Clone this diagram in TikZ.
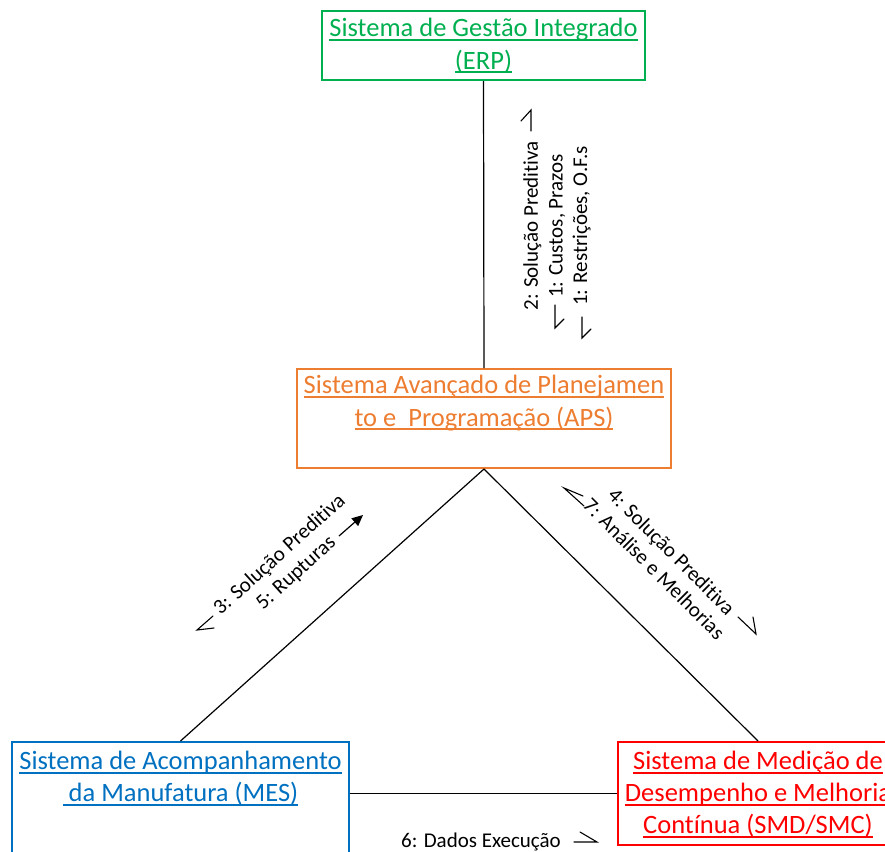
\documentclass[tikz,border=0pt]{standalone}
\usepackage{fontspec}
\setmainfont{Carlito}[Ligatures=NoCommon]
\usetikzlibrary{arrows.meta}
\definecolor{erpgreen}{HTML}{00B050}
\definecolor{apsorange}{HTML}{ED7D31}
\definecolor{mesblue}{HTML}{0070C0}
\definecolor{smdred}{HTML}{FF0000}
% underline at a fixed depth below the baseline, in the current colour
\newcommand\ulined[1]{\leavevmode\setbox0\hbox{#1}\rlap{\rule[-0.16em]{\wd0}{0.075em}}\box0}
\begin{document}
\begin{tikzpicture}[x=1pt,y=-1pt,
  sysbox/.style={draw, line width=2pt, inner sep=0pt},
  systext/.style={align=center, inner sep=0pt, font=\fontsize{26.5}{32.3}\selectfont},
  lbl/.style={align=center, inner sep=0pt, font=\fontsize{21}{24.6}\selectfont},
  conn/.style={line width=1.2pt, black},
  harp/.style={line width=1.1pt, black, line cap=round, line join=miter}]
\useasboundingbox (0,0) rectangle (885,851);
\clip (0,0) rectangle (885,851);

% system boxes
\node[sysbox, draw=erpgreen, minimum width=323pt, minimum height=69pt] (erp) at (483.5,45.5) {};
\node[sysbox, draw=apsorange, minimum width=374pt, minimum height=99pt] (aps) at (484,418.5) {};
\node[sysbox, draw=mesblue, minimum width=337pt, minimum height=118pt] (mes) at (180.5,801) {};
\node[sysbox, draw=smdred, minimum width=280pt, minimum height=103pt] (smd) at (758,793.5) {};

% box titles
\node[systext, text=erpgreen] (erpt) at (483.5,46) {\ulined{Sistema de Gestão Integrado}\\\ulined{(ERP)}};
\node[systext, text=apsorange] (apst) at (484,403) {\ulined{Sistema Avançado de Planejamen}\\\ulined{to e\ \ Programação (APS)}};
\node[systext, text=mesblue] (mest) at (180.5,778.5) {\ulined{Sistema de Acompanhamento}\\\ulined{\ da Manufatura (MES)}};
\node[systext, text=smdred] (smdt) at (758,794.5) {\ulined{Sistema de Medição de}\\\ulined{Desempenho e Melhoria}\\\ulined{Contínua (SMD/SMC)}};

% connectors
\draw[conn] (erp.south) -- (aps.north);
\draw[conn] (aps.south) -- (mes.north);
\draw[conn] (aps.south) -- (smd.north);
\draw[conn] (smd.west) -- (smd.west -| mes.east);

% message labels
\node[lbl, rotate=90] (lerp) at (557,226) {2: Solução Preditiva\\1: Custos, Prazos\\1: Restrições, O.F.s};
\node[lbl, rotate=42] (lmes) at (288,564) {3: Solução Preditiva\\5: Rupturas};
\node[lbl, rotate=-45] (lsmd) at (663,560) {4: Solução Preditiva\\7: Análise e Melhorias};
\node[lbl] (lexe) at (481,842) {6: Dados Execução};

% direction markers beside the labels
\coordinate (h1) at (531,110);
\draw[harp] (531,131) -- (h1) -- (521,121);
\coordinate (h2) at (555,328);
\draw[harp] (555,305) -- (h2) -- (564,319);
\coordinate (h3) at (582,338);
\draw[harp] (582,317) -- (h3) -- (591,329);
\coordinate (h4) at (197,630);
\draw[harp] (213,616) -- (h4) -- (214,628);
\coordinate (h5) at (363,515);
\draw[conn, -{Triangle[length=11pt,width=10pt]}] (339,536) -- (h5);
\coordinate (h6) at (564,488);
\draw[harp] (584,506) -- (h6) -- (583,496);
\coordinate (h7) at (756,634);
\draw[harp] (738,617) -- (h7) -- (753,617);
\coordinate (h8) at (597,842);
\draw[harp] (574,842) -- (h8) -- (580,832);
\end{tikzpicture}
\end{document}
